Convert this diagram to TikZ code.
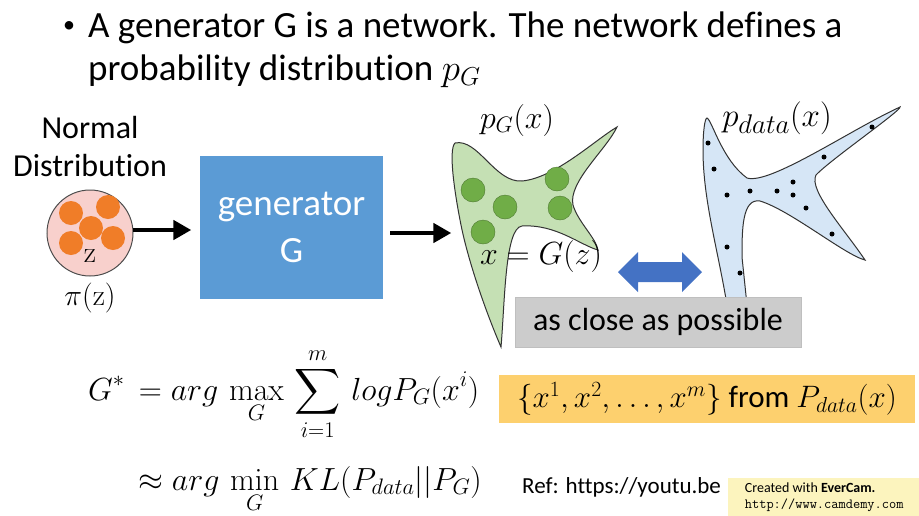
\documentclass[tikz,border=0pt]{standalone}
\usepackage{fix-cm}
\usepackage{amsmath,amssymb}
\usepackage[no-math]{fontspec}
\setmainfont{Carlito}[Ligatures = NoCommon]
\usetikzlibrary{shapes,arrows}

\definecolor{genblue}{RGB}{91,155,213}
\definecolor{dotorange}{RGB}{240,125,40}
\definecolor{zpink}{RGB}{248,208,204}
\definecolor{pgfill}{RGB}{197,224,180}
\definecolor{pgdot}{RGB}{112,173,71}
\definecolor{pdfill}{RGB}{214,230,246}
\definecolor{arrblue}{RGB}{68,114,196}
\definecolor{closegray}{RGB}{204,204,204}
\definecolor{sampleorange}{RGB}{253,208,110}
\definecolor{markyellow}{RGB}{252,244,190}

\newcommand{\fsz}[1]{\fontsize{#1}{1.2\dimexpr#1pt\relax}\selectfont}

\begin{document}
\begin{tikzpicture}
		[
		x = 1pt, y = -1pt,
		txt/.style = {inner sep = 0pt, font = \fsz{32}},
		orangedot/.style = {circle, fill = dotorange, minimum size = 24pt, inner sep = 0pt},
		greendot/.style = {circle, fill = pgdot, draw = pgdot!70!black, minimum size = 24pt, inner sep = 0pt},
		datadot/.style = {circle, fill = black, minimum size = 5pt, inner sep = 0pt},
		fat/.style = {line width = 4pt, -triangle 60},
		]
		
		\useasboundingbox (0,0) rectangle (919,515);
		
		% bullet text
		\node[txt, font = \fsz{24}] (bullet) at (69,27) {\textbullet};
		\node[txt, anchor = base west, font = \fsz{37}] (title1) at (88,37)
			{A generator G is a network. The network defines a};
		\node[txt, anchor = base west, font = \fsz{37}] (title2) at (88,80)
			{probability distribution $p_G$};
		
		% normal distribution
		\node[txt] (normal) at (90,128) {Normal};
		\node[txt] (distr) at (90,166) {Distribution};
		\node[circle, draw = black!70, fill = zpink, line width = 1pt, minimum size = 86pt] (z) at (90,233) {};
		\node[orangedot] (o1) at (71,213) {};
		\node[orangedot] (o2) at (108,207) {};
		\node[orangedot] (o3) at (91,228) {};
		\node[orangedot] (o4) at (71,243) {};
		\node[orangedot] (o5) at (113,238) {};
		\node[txt, font = \fsz{30}] (zlab) at (90,256) {$\mathrm{z}$};
		\node[txt, font = \fsz{30}] (piz) at (90,298) {$\pi(\mathrm{z})$};
		
		% generator
		\node[fill = genblue, minimum width = 183pt, minimum height = 143pt, align = center,
			text = white, font = \fsz{37}] (gen) at (291.5,227.5)
			{generator\\[2pt]G};
		\coordinate (zout) at (133,230);
		\coordinate (genin) at (191,230);
		\coordinate (genout) at (390,233);
		\coordinate (pgin) at (451,233);
		\draw[fat] (zout) -- (genin);
		\draw[fat] (genout) -- (pgin);
		
		% p_G
		\draw[fill = pgfill, draw = black!80, line width = 1pt]
			(455,143) .. controls (478,138) and (495,183) .. (522,181)
			.. controls (555,178) and (595,140) .. (617,127)
			.. controls (606,150) and (568,182) .. (573,205)
			.. controls (578,222) and (596,238) .. (598,250)
			.. controls (580,245) and (556,224) .. (522,226)
			.. controls (505,228) and (505,300) .. (501,347)
			.. controls (485,310) and (468,260) .. (461,225)
			.. controls (455,195) and (448,150) .. (455,143) -- cycle;
		\node[greendot] (g1) at (473,190) {};
		\node[greendot] (g2) at (505,207) {};
		\node[greendot] (g3) at (557,179) {};
		\node[greendot] (g4) at (560,208) {};
		\node[greendot] (g5) at (483,232) {};
		\node[txt, font = \fsz{32}] (pg) at (517,120) {$p_G(x)$};
		\node[txt, font = \fsz{32}] (xgz) at (541,256) {$x = G(z)$};
		
		% p_data
		\draw[fill = pdfill, draw = black!80, line width = 1pt]
			(707,118) .. controls (712,120) and (722,160) .. (747,178)
			.. controls (770,185) and (850,130) .. (900,107)
			.. controls (902,110) and (830,160) .. (816,175)
			.. controls (808,190) and (845,230) .. (865,260)
			.. controls (845,255) and (790,210) .. (760,201)
			.. controls (742,198) and (742,230) .. (742,257)
			-- (747,305) -- (727,305)
			.. controls (718,250) and (703,200) .. (703,150)
			.. controls (703,130) and (705,118) .. (707,118) -- cycle;
		\foreach \px/\py [count = \k] in {708/143, 714/169, 727/195, 750/191, 777/191, 793/182,
			793/195, 806/208, 824/157, 832/234, 727/247, 740/273, 872/127}
			\node[datadot] (d\k) at (\px,\py) {};
		\node[txt, font = \fsz{33}] (pdata) at (777,118)
			{$p_{\hbox{\fsz{27}$data$}}(x)$};
		
		% as close as possible
		\fill[arrblue] (618,272) -- (638,252) -- (638,262) -- (682,262) -- (682,252) -- (702,272)
			-- (682,292) -- (682,282) -- (638,282) -- (638,292) -- cycle;
		\node[fill = closegray, draw = black!25, minimum width = 286pt, minimum height = 50pt,
			font = \fsz{32}] (close) at (658,322) {as close as possible};
		
		% formulas
		\node[txt, anchor = base west, font = \fsz{32}] (maxlik) at (88,400)
			{$\displaystyle G^*\, = arg\, \max_G\, \sum_{i=1}^{m}\, log P_G(x^i)$};
		\node[txt, anchor = base west, font = \fsz{32}] (minkl) at (138,490)
			{$\displaystyle \approx arg\, \min_G\, KL(P_{data}||P_G)$};
		\node[fill = sampleorange, minimum width = 416pt, minimum height = 48pt, font = \fsz{31}]
			(samples) at (707,399) {$\{x^1, x^2, \ldots, x^m\}$ from $P_{data}(x)$};
		
		% reference and watermark
		\node[txt, anchor = base west, font = \fsz{23}] (ref) at (522,493) {Ref: https://youtu.be};
		\node[fill = markyellow, anchor = north west, minimum width = 192pt, minimum height = 38pt,
			align = left, font = \fsz{14}] (mark) at (728,478)
			{Created with \textbf{EverCam.}\\\texttt{http://www.camdemy.com}};
		
		\end{tikzpicture}
\end{document}
